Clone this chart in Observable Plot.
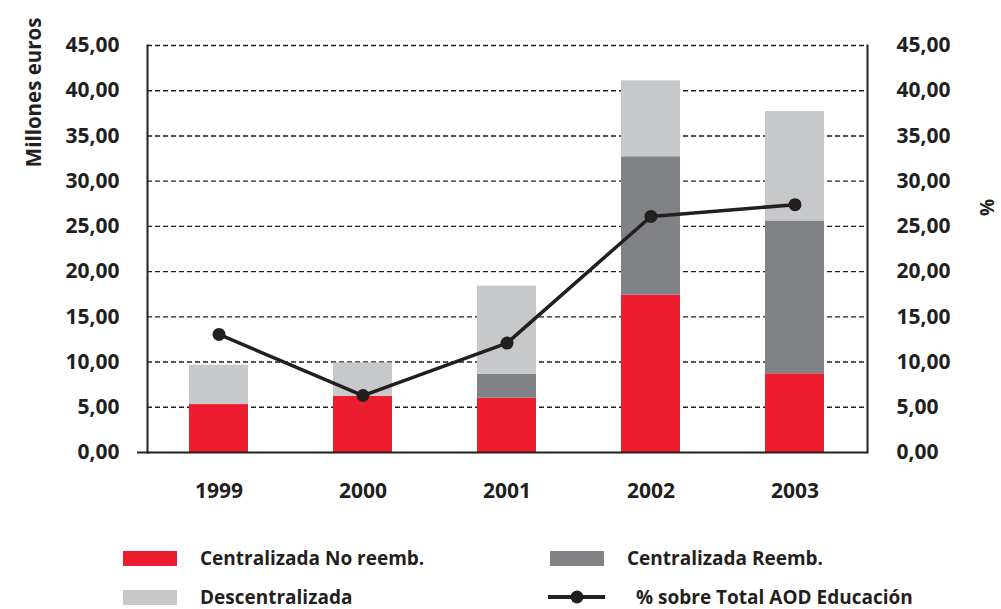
<!DOCTYPE html>
<html>
<head>
<meta charset="utf-8">
<script src="https://cdn.jsdelivr.net/npm/d3@7"></script>
<script src="https://cdn.jsdelivr.net/npm/@observablehq/plot@0.6"></script>
<style>
  body { margin: 0; background: #fff; font-family: "Open Sans", sans-serif; color: #231f20; overflow: hidden; }
  #wrap { width: 1001px; }
  #legend { position: relative; width: 1001px; height: 79px; font-weight: 700; font-size: 19px; }
  .sw { width: 54px; height: 15px; }
  .lbl { position: absolute; white-space: nowrap; line-height: 18px; }
</style>
</head>
<body>
<div id="wrap"></div>
<div id="legend"></div>
<script>
const years = ["1999", "2000", "2001", "2002", "2003"];
const centralNoReemb = [5.3, 6.2, 6.0, 17.4, 8.7];
const centralReemb = [0, 0, 2.65, 15.3, 16.9];
const descentral = [4.35, 3.7, 9.75, 8.4, 12.1];
const pctEducacion = [13.05, 6.3, 12.1, 26.1, 27.4];
const seriesNames = ["Centralizada No reemb.", "Centralizada Reemb.", "Descentralizada"];
const seriesColors = ["#ed1c2e", "#808285", "#c7c8ca"];
const lineName = "% sobre Total AOD Educación";
const yTicks = [0, 5, 10, 15, 20, 25, 30, 35, 40, 45];

const seriesValues = [centralNoReemb, centralReemb, descentral];
const barData = [];
seriesNames.forEach((s, i) => years.forEach((y, j) => barData.push({year: y, serie: s, value: seriesValues[i][j]})));
const lineData = years.map((y, j) => ({year: y, pct: pctEducacion[j]}));
const fmt = d => d.toFixed(2).replace(".", ",");
const ink = "#231f20";

const chart = Plot.plot({
  width: 1001,
  height: 530,
  marginLeft: 147,
  marginRight: 134,
  marginTop: 45,
  marginBottom: 78,
  style: {fontFamily: "Open Sans, sans-serif", fontWeight: 700, fontSize: "21px", color: ink, background: "#fff"},
  x: {domain: years, paddingInner: 0.59, paddingOuter: 0.295},
  y: {domain: [0, 45]},
  color: {domain: seriesNames, range: seriesColors},
  marks: [
    Plot.ruleY(yTicks.filter(d => d > 0), {stroke: ink, strokeWidth: 1.4, strokeDasharray: "5,3"}),
    Plot.barY(barData, {x: "year", y: "value", fill: "serie", order: seriesNames}),
    Plot.ruleY([0], {stroke: ink, strokeWidth: 2}),
    Plot.frame({anchor: "left", stroke: ink, strokeWidth: 2}),
    Plot.frame({anchor: "right", stroke: ink, strokeWidth: 2}),
    Plot.axisY({anchor: "left", ticks: [0], tickSize: 10, strokeWidth: 2, tickFormat: () => "", label: null}),
    Plot.axisY({anchor: "left", ticks: yTicks, tickSize: 0, tickPadding: 28, tickFormat: fmt, label: null, fontSize: 21}),
    Plot.axisY({anchor: "right", ticks: yTicks, tickSize: 0, tickPadding: 29, tickFormat: fmt, label: null, fontSize: 21}),
    Plot.axisX({tickSize: 0, tickPadding: 31, label: null, fontSize: 21}),
    Plot.line(lineData, {x: "year", y: "pct", stroke: ink, strokeWidth: 3.5}),
    Plot.dot(lineData, {x: "year", y: "pct", r: 6.5, fill: ink}),
    Plot.text(["Millones euros"], {frameAnchor: "top-left", dx: -121, dy: -28, rotate: -90, textAnchor: "end", fontSize: 20.5, fill: ink}),
    Plot.text(["%"], {frameAnchor: "top-right", dx: 113, dy: 162, rotate: -90, textAnchor: "middle", fontSize: 19, fill: ink})
  ]
});
document.getElementById("wrap").appendChild(chart);

// Legend (HTML, below the SVG)
const legend = document.getElementById("legend");
const legendItems = [
  {name: seriesNames[0], color: seriesColors[0], sx: 123, tx: 200, y: 28},
  {name: seriesNames[1], color: seriesColors[1], sx: 550, tx: 627, y: 28},
  {name: seriesNames[2], color: seriesColors[2], sx: 123, tx: 200, y: 67},
  {name: lineName, line: true, sx: 548, tx: 636, y: 67}
];
legendItems.forEach(it => {
  if (it.line) {
    const ns = "http://www.w3.org/2000/svg";
    const s = document.createElementNS(ns, "svg");
    s.setAttribute("width", 58); s.setAttribute("height", 16);
    s.style.position = "absolute"; s.style.left = it.sx + "px"; s.style.top = (it.y - 8) + "px";
    const l = document.createElementNS(ns, "line");
    l.setAttribute("x1", 0); l.setAttribute("x2", 57); l.setAttribute("y1", 8); l.setAttribute("y2", 8);
    l.setAttribute("stroke", ink); l.setAttribute("stroke-width", 4);
    const c = document.createElementNS(ns, "circle");
    c.setAttribute("cx", 29); c.setAttribute("cy", 8); c.setAttribute("r", 6.5); c.setAttribute("fill", ink);
    s.appendChild(l); s.appendChild(c); legend.appendChild(s);
  } else {
    const sw = document.createElement("div");
    sw.className = "sw";
    sw.style.position = "absolute"; sw.style.left = it.sx + "px"; sw.style.top = (it.y - 7.5) + "px";
    sw.style.background = it.color;
    legend.appendChild(sw);
  }
  const t = document.createElement("div");
  t.className = "lbl";
  t.textContent = it.name;
  t.style.left = it.tx + "px"; t.style.top = (it.y - 9) + "px";
  legend.appendChild(t);
});
</script>
</body>
</html>
